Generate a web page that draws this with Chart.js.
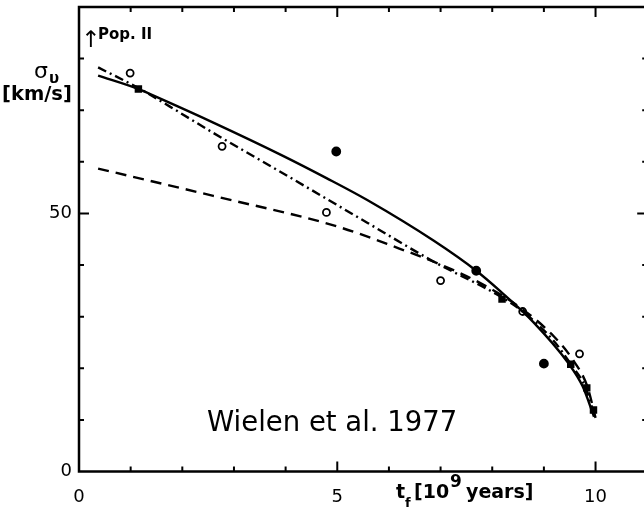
<!DOCTYPE html>
<html>
<head>
<meta charset="utf-8">
<script src="https://cdn.jsdelivr.net/npm/chart.js@4"></script>
<style>
  html, body { margin: 0; padding: 0; background: #fff; overflow: hidden; }
  #wrap { position: absolute; left: 0; top: 0; width: 653px; height: 517px; }
</style>
</head>
<body>
<div id="wrap"><canvas id="sigmaChart" width="653" height="517"></canvas></div>
<script>
// velocity dispersion vs. formation time
const solidT     = [0.37, 1.15, 1.63, 2.6, 3.9, 4.8, 5.58, 6.87, 7.69, 8.16, 8.8, 9.45, 9.75, 9.97];
const solidSigma = [76.7, 74.1, 72.0, 67.6, 61.4, 56.8, 52.6, 44.7, 38.9, 34.9, 28.9, 21.3, 16.5, 10.6];

const dotDashT     = [0.37, 1.15, 1.76, 2.6, 4.15, 5.58, 6.86, 8.16, 8.59, 9.2, 9.52, 9.8, 9.96];
const dotDashSigma = [78.3, 74.3, 70.7, 65.6, 56.6, 48.2, 40.7, 33.9, 31.0, 25.2, 20.8, 16.4, 11.5];

const dashT     = [0.37, 2.6, 4.99, 6.2, 7.0, 7.77, 8.55, 9.19, 9.55, 9.84, 10.0];
const dashSigma = [58.7, 53.4, 47.5, 43.2, 40.1, 36.5, 31.7, 26.2, 21.8, 16.5, 10.4];

const openT     = [0.99, 2.77, 4.79, 7.0, 8.59, 9.69];
const openSigma = [77.2, 63.0, 50.2, 37.0, 31.0, 22.8];

const filledT     = [4.98, 7.69, 9.0];
const filledSigma = [62.0, 38.9, 20.9];

const squareT     = [1.15, 8.19, 9.52, 9.83, 9.96];
const squareSigma = [74.1, 33.4, 20.8, 16.2, 11.9];

const xTickLabels = [0, 5, 10];
const yTickLabels = [0, 50];

const toPoints = (xs, ys) => xs.map((x, i) => ({ x: x, y: ys[i] }));

const curve = (label, xs, ys, dash) => ({
    label: label,
    data: toPoints(xs, ys),
    showLine: true,
    borderColor: '#000',
    borderWidth: 2.4,
    borderDash: dash,
    pointRadius: 0,
    cubicInterpolationMode: 'monotone',
    fill: false,
});

const marks = (label, xs, ys, style, radius, filled) => ({
    label: label,
    data: toPoints(xs, ys),
    showLine: false,
    pointStyle: style,
    pointRadius: radius,
    pointBorderWidth: 1.8,
    pointBorderColor: '#000',
    pointBackgroundColor: filled ? '#000' : '#fff',
});

// keep the plot box exactly where the layout padding puts it
const noScalePadding = (scale) => {
    scale.paddingTop = 0;
    scale.paddingBottom = 0;
    scale.paddingLeft = 0;
    scale.paddingRight = 0;
};

// box, inward ticks and annotations
const framePlugin = {
    id: 'frame',
    afterDraw(chart) {
        const ctx = chart.ctx;
        const a = chart.chartArea;
        const xs = chart.scales.x;
        const ys = chart.scales.y;
        ctx.save();
        ctx.strokeStyle = '#000';
        ctx.lineWidth = 2.5;
        ctx.strokeRect(a.left, a.top, a.right - a.left, a.bottom - a.top);

        ctx.lineWidth = 2;
        ctx.beginPath();
        for (let v = 1; v <= 11; v++) {
            const px = xs.getPixelForValue(v);
            const len = v % 5 === 0 ? 10 : 5;
            ctx.moveTo(px, a.bottom); ctx.lineTo(px, a.bottom - len);
            ctx.moveTo(px, a.top); ctx.lineTo(px, a.top + len);
        }
        for (let v = 10; v <= 80; v += 10) {
            const py = ys.getPixelForValue(v);
            const len = v % 50 === 0 ? 10 : 5;
            ctx.moveTo(a.left, py); ctx.lineTo(a.left + len, py);
            ctx.moveTo(a.right, py); ctx.lineTo(a.right - len, py);
        }
        ctx.stroke();

        ctx.fillStyle = '#000';
        ctx.textBaseline = 'alphabetic';
        ctx.textAlign = 'left';

        // y title
        ctx.font = '22px "DejaVu Sans"';
        ctx.fillText('σ', 34, 78);
        ctx.font = 'bold 15px "DejaVu Sans"';
        ctx.fillText('υ', 49, 83);
        ctx.font = 'bold 19.5px "DejaVu Sans"';
        ctx.fillText('[km/s]', 2, 100);

        // population II marker
        ctx.font = '23px "DejaVu Sans"';
        ctx.fillText('↑', 81, 47);
        ctx.font = 'bold 15px "DejaVu Sans"';
        ctx.fillText('Pop. II', 98, 39);

        // x title
        ctx.font = 'bold 19px "DejaVu Sans"';
        ctx.fillText('t', 396, 498);
        ctx.font = 'bold 13px "DejaVu Sans"';
        ctx.fillText('f', 405, 507);
        ctx.font = 'bold 19px "DejaVu Sans"';
        ctx.fillText('[10', 414, 498);
        ctx.font = 'bold 17px "DejaVu Sans"';
        ctx.fillText('9', 450, 487);
        ctx.font = 'bold 19px "DejaVu Sans"';
        ctx.fillText('years]', 466, 498);

        // source
        ctx.font = '27.5px "DejaVu Sans"';
        ctx.fillText('Wielen et al. 1977', 207, 431);
        ctx.restore();
    },
};

new Chart(document.getElementById('sigmaChart').getContext('2d'), {
    type: 'scatter',
    data: {
        datasets: [
            curve('solid', solidT, solidSigma, []),
            curve('dot-dash', dotDashT, dotDashSigma, [9, 4, 2, 4]),
            curve('dashed', dashT, dashSigma, [11, 7]),
            marks('open', openT, openSigma, 'circle', 3.5, false),
            marks('filled', filledT, filledSigma, 'circle', 4, true),
            marks('square', squareT, squareSigma, 'rect', 4, true),
        ],
    },
    options: {
        responsive: false,
        animation: false,
        layout: { padding: { top: 7, right: 0, left: 0, bottom: 0 } },
        plugins: {
            legend: { display: false },
            tooltip: { enabled: false },
        },
        scales: {
            x: {
                type: 'linear',
                min: 0,
                max: 11,
                grid: { display: false, drawTicks: false },
                border: { display: false },
                afterBuildTicks: (scale) => { scale.ticks = xTickLabels.map(v => ({ value: v })); },
                afterFit: (scale) => { scale.height = 45.5; noScalePadding(scale); },
                ticks: {
                    color: '#000',
                    padding: 15,
                    maxRotation: 0,
                    font: { family: 'DejaVu Sans', size: 18 },
                },
            },
            y: {
                min: 0,
                max: 90,
                grid: { display: false, drawTicks: false },
                border: { display: false },
                afterBuildTicks: (scale) => { scale.ticks = yTickLabels.map(v => ({ value: v })); },
                afterFit: (scale) => { scale.width = 79; noScalePadding(scale); },
                ticks: {
                    color: '#000',
                    padding: 7,
                    font: { family: 'DejaVu Sans', size: 18 },
                },
            },
        },
    },
    plugins: [framePlugin],
});
</script>
</body>
</html>
